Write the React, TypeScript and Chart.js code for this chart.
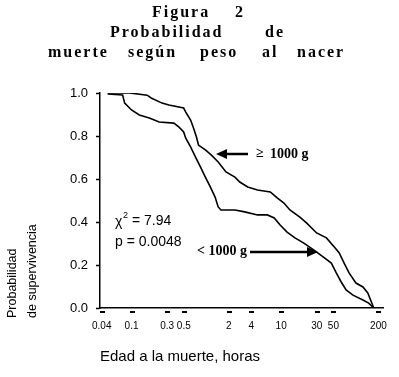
import React, { useEffect, useRef } from "react";
import { Chart, registerables } from "chart.js";

Chart.register(...registerables);

// ---- Data ----
// Kaplan-Meier survival, birth weight >= 1000 g
const heavyTimes = [0.048, 0.094, 0.162, 0.183, 0.256, 0.316, 0.498, 0.529, 0.616, 0.674, 0.738, 0.785, 0.97, 1.16, 1.44, 1.83, 2.41, 2.8, 3.57, 4.83, 7.17, 8.86, 10.9, 13.1, 17.8, 22.0, 29.8, 40.3, 51.4, 59.8, 69.5, 80.9, 100, 124, 144, 157, 173];
const heavySurv = [1.0, 1.0, 0.99, 0.977, 0.953, 0.944, 0.93, 0.912, 0.874, 0.837, 0.795, 0.758, 0.735, 0.712, 0.679, 0.633, 0.609, 0.586, 0.563, 0.549, 0.54, 0.512, 0.488, 0.456, 0.423, 0.395, 0.349, 0.326, 0.284, 0.256, 0.209, 0.163, 0.116, 0.098, 0.07, 0.037, 0.0];
// Kaplan-Meier survival, birth weight < 1000 g
const lightTimes = [0.048, 0.076, 0.081, 0.1, 0.127, 0.173, 0.234, 0.368, 0.428, 0.498, 0.529, 0.616, 0.717, 0.834, 0.97, 1.13, 1.31, 1.44, 1.57, 2.41, 3.26, 4.83, 6.54, 8.09, 9.7, 12.0, 15.3, 20.1, 27.2, 36.8, 46.9, 54.6, 63.5, 73.9, 91.3, 124, 148, 173];
const lightSurv = [0.995, 0.991, 0.953, 0.921, 0.898, 0.884, 0.865, 0.86, 0.842, 0.819, 0.791, 0.749, 0.702, 0.656, 0.609, 0.563, 0.516, 0.47, 0.456, 0.456, 0.447, 0.433, 0.433, 0.419, 0.386, 0.353, 0.326, 0.302, 0.27, 0.237, 0.209, 0.163, 0.121, 0.084, 0.06, 0.037, 0.023, 0.0];

const xTickValues = [0.04, 0.1, 0.3, 0.5, 2, 4, 10, 30, 50, 200];
const xTickLabels = ["0.04", "0.1", "0.3", "0.5", "2", "4", "10", "30", "50", "200"];
const yTickStep = 0.2;

const titleWords: [string, number, number][] = [
  ["Figura", 152, 13],
  ["2", 235, 13],
  ["Probabilidad", 110, 33],
  ["de", 265, 33],
  ["muerte", 48, 53],
  ["según", 128, 53],
  ["peso", 200, 53],
  ["al", 262, 53],
  ["nacer", 297, 53],
];

const SANS = '"Liberation Sans", Arial, sans-serif';
const SERIF = '"Liberation Serif", "Times New Roman", serif';

function arrow(ctx: CanvasRenderingContext2D, x1: number, y: number, x2: number) {
  const dir = x2 > x1 ? 1 : -1;
  ctx.beginPath();
  ctx.lineWidth = 2.5;
  ctx.moveTo(x1, y);
  ctx.lineTo(x2 - dir * 8, y);
  ctx.stroke();
  ctx.beginPath();
  ctx.moveTo(x2, y);
  ctx.lineTo(x2 - dir * 11, y - 5);
  ctx.lineTo(x2 - dir * 11, y + 5);
  ctx.closePath();
  ctx.fill();
}

const decor = {
  id: "decor",
  afterDraw(chart: any) {
    const ctx: CanvasRenderingContext2D = chart.ctx;
    const xs = chart.scales.x;
    ctx.save();
    ctx.fillStyle = "#000";
    ctx.strokeStyle = "#000";

    // x tick dashes
    xs.ticks.forEach((t: any) => {
      const px = xs.getPixelForValue(t.value);
      ctx.fillRect(Math.round(px) - 2, 311, 5, 2);
    });

    // title
    ctx.font = `bold 16px ${SERIF}`;
    (ctx as any).letterSpacing = "2px";
    ctx.textBaseline = "middle";
    ctx.textAlign = "left";
    titleWords.forEach(([t, x, y]) => ctx.fillText(t, x, y));
    (ctx as any).letterSpacing = "0px";

    // y-axis title (two rotated lines)
    ctx.save();
    ctx.font = `12.5px ${SANS}`;
    ctx.textAlign = "left";
    ctx.textBaseline = "middle";
    ctx.translate(13, 318);
    ctx.rotate(-Math.PI / 2);
    ctx.fillText("Probabilidad", 0, 0);
    ctx.fillText("de supervivencia", 0, 20);
    ctx.restore();

    // x-axis title
    ctx.font = `15px ${SANS}`;
    ctx.textAlign = "center";
    ctx.fillText("Edad a la muerte, horas", 180, 357);

    // statistics
    ctx.textAlign = "left";
    ctx.font = `14px ${SANS}`;
    ctx.fillText("\u03C7", 115, 222);
    ctx.font = `9px ${SANS}`;
    ctx.fillText("2", 123, 216);
    ctx.font = `14px ${SANS}`;
    ctx.fillText(" = 7.94", 128, 221);
    ctx.fillText("p = 0.0048", 115, 242);

    // group labels
    ctx.font = `bold 14px ${SERIF}`;
    ctx.fillText("< 1000 g", 197, 251);
    arrow(ctx, 250, 252, 318);
    ctx.fillText("\u2265", 256, 153);
    ctx.fillText("1000 g", 270, 154);
    arrow(ctx, 248, 154, 216);

    ctx.restore();
  },
};

export default function App() {
  const ref = useRef<HTMLCanvasElement>(null);
  useEffect(() => {
    const heavy = heavyTimes.map((x, i) => ({ x, y: heavySurv[i] }));
    const light = lightTimes.map((x, i) => ({ x, y: lightSurv[i] }));
    const chart = new Chart(ref.current!, {
      type: "line",
      data: {
        datasets: [
          { label: "\u2265 1000 g", data: heavy, borderColor: "#000", borderWidth: 1.6, pointRadius: 0, fill: false, tension: 0 },
          { label: "< 1000 g", data: light, borderColor: "#000", borderWidth: 1.6, pointRadius: 0, fill: false, tension: 0 },
        ],
      },
      options: {
        responsive: false,
        animation: false,
        layout: { padding: { top: 93, right: 11, left: 0, bottom: 0 } },
        plugins: { legend: { display: false }, title: { display: false }, tooltip: { enabled: false } },
        scales: {
          x: {
            type: "logarithmic",
            min: 0.0379,
            max: 233,
            bounds: "data",
            afterBuildTicks: (s: any) => {
              s.ticks = xTickValues.map((v) => ({ value: v }));
            },
            afterFit: (s: any) => {
              s.height = 69;
            },
            grid: { display: false, drawTicks: false },
            border: { display: true, color: "#000", width: 1.5 },
            ticks: {
              autoSkip: false,
              maxRotation: 0,
              padding: 12,
              color: "#000",
              font: { family: SANS, size: 10 },
              callback: (_v: any, i: number) => xTickLabels[i],
            },
          },
          y: {
            type: "linear",
            min: 0,
            max: 1,
            afterFit: (s: any) => {
              s.width = 100;
            },
            grid: { drawOnChartArea: false, drawTicks: true, tickLength: 4, color: "#000", tickWidth: 1.5 },
            border: { display: true, color: "#000", width: 1.5 },
            ticks: {
              stepSize: yTickStep,
              padding: 8,
              color: "#000",
              font: { family: SANS, size: 13 },
              callback: (v: any) => Number(v).toFixed(1),
            },
          },
        },
      },
      plugins: [decor],
    });
    return () => chart.destroy();
  }, []);
  return (
    <canvas
      ref={ref}
      width={399}
      height={377}
      style={{ position: "fixed", left: 0, top: 0, width: 399, height: 377, background: "#fff" }}
    />
  );
}
